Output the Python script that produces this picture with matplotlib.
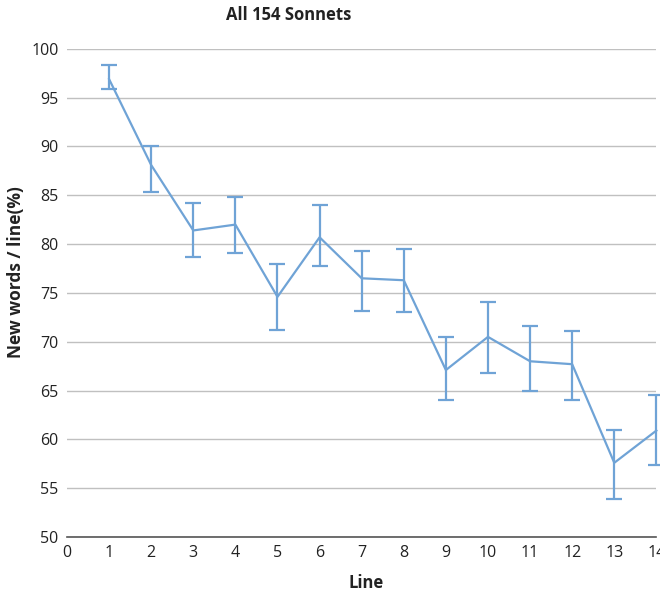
import matplotlib
matplotlib.use("Agg")
import matplotlib.pyplot as plt
import numpy as np

plt.rcParams["font.family"] = ["Open Sans", "DejaVu Sans"]

# 数据：每行新词比例（%）及误差
lines = [1, 2, 3, 4, 5, 6, 7, 8, 9, 10, 11, 12, 13, 14]
new_words = [96.9, 88.1, 81.4, 82.0, 74.6, 80.7, 76.5, 76.3, 67.1, 70.5, 68.0, 67.7, 57.6, 60.9]
err_low = [1.0, 2.8, 2.7, 2.9, 3.4, 2.9, 3.3, 3.3, 3.1, 3.7, 3.0, 3.7, 3.7, 3.5]
err_high = [1.4, 1.9, 2.8, 2.8, 3.4, 3.3, 2.8, 3.2, 3.4, 3.6, 3.6, 3.4, 3.4, 3.6]
x_ticks = list(range(0, 15))
y_ticks = list(range(50, 101, 5))

color = "#6fa3d6"

fig = plt.figure(figsize=(6.6, 5.96), dpi=100)
ax = fig.add_axes([0.1015, 0.099, 0.893, 0.819])

ax.errorbar(lines, new_words, yerr=[err_low, err_high], color=color,
            linewidth=1.6, elinewidth=1.6, capsize=6, capthick=1.6,
            clip_on=False, zorder=3)

ax.set_xlim(0, 14)
ax.set_ylim(50, 100)
ax.set_xticks(x_ticks)
ax.set_yticks(y_ticks)
ax.tick_params(length=0, labelsize=11.5, colors="#222222")
ax.tick_params(axis="x", pad=6)
ax.tick_params(axis="y", pad=6)
ax.grid(axis="y", color="#c0c0c0", linewidth=1)
ax.set_axisbelow(True)
for s in ["top", "right", "left"]:
    ax.spines[s].set_visible(False)
ax.spines["bottom"].set_color("#555555")
ax.spines["bottom"].set_linewidth(1.2)

fig.text(0.438, 0.975, "All 154 Sonnets", fontsize=12, fontweight="bold",
         ha="center", va="center", color="#222222")
ax.set_xlabel("Line", fontsize=12, fontweight="bold", color="#222222")
ax.set_ylabel("New words / line(%)", fontsize=12.5, fontweight="bold", color="#222222")
ax.xaxis.set_label_coords(0.507, -0.076)
ax.yaxis.set_label_coords(-0.071, 0.543)

fig.savefig("out.png", dpi=100)
plt.close(fig)
